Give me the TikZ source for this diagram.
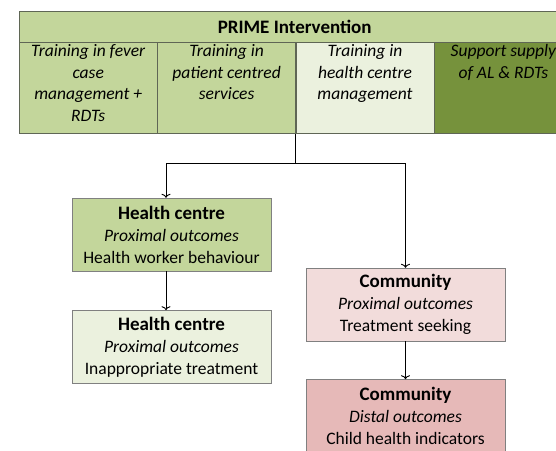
\documentclass[tikz,border=0pt]{standalone}
\usepackage{fontspec}
\setmainfont{Carlito}
\usepackage{xcolor}
\usepackage{tikz}
\usetikzlibrary{calc,positioning,arrows.meta}
\definecolor{olivelt}{RGB}{195,214,155}
\definecolor{olivepale}{RGB}{235,241,222}
\definecolor{olivedk}{RGB}{118,146,60}
\definecolor{rosepale}{RGB}{242,220,219}
\definecolor{rosemid}{RGB}{230,185,184}
\definecolor{gridline}{RGB}{95,102,85}
\tikzstyle{centered} = [align=center, text centered]
\tikzstyle{cell} = [draw=gridline, rectangle, inner sep=0pt, minimum width=138pt, minimum height=91pt]
\tikzset{
  % text styles
  celltext/.style={centered, anchor=north, inner sep=0pt, yshift=-2pt, font=\fontsize{17.5}{21.5}\selectfont\itshape},
  title/.style={font=\fontsize{19}{22}\selectfont\bfseries},
  % box styles
  outcome/.style={centered, rectangle, draw=gray, minimum width=199pt, minimum height=73pt, inner sep=1pt, font=\fontsize{17.5}{22}\selectfont},
  hcbox/.style={outcome,fill=olivelt},
  hcpale/.style={outcome,fill=olivepale},
  combox/.style={outcome,fill=rosepale},
  comdk/.style={outcome,fill=rosemid},
  link/.style={draw, line width=0.9pt},
}

\begin{document}
\begin{tikzpicture}[x=1pt,y=-1pt,>={To[length=4pt,width=9pt]}]
        \path[use as bounding box,clip] (0,0) rectangle (556,450);
        % intervention table
        \node(prime)[cell,anchor=north west,minimum width=551pt,minimum height=31pt,fill=olivelt,title] at(19,11){PRIME Intervention};
        \node(fever)[cell,anchor=north west,fill=olivelt] at(prime.south west){};
        \node(patient)[cell,fill=olivelt,right=0pt of fever]{};
        \node(mgmt)[cell,fill=olivepale,right=0pt of patient]{};
        \node(supply)[cell,fill=olivedk,right=0pt of mgmt]{};
        \node(feverT)[celltext] at(fever.north){Training in fever\\case\\management +\\RDTs};
        \node(patientT)[celltext] at(patient.north){Training in\\patient centred\\services};
        \node(mgmtT)[celltext] at(mgmt.north){Training in\\health centre\\management};
        \node(supplyT)[celltext] at(supply.north){Support supply\\of AL \& RDTs};
        % outcome boxes
        \node(hcbeh)[hcbox] at(171.5,234.5){{\fontsize{19}{22}\selectfont\bfseries Health centre}\\\textit{Proximal outcomes}\\Health worker behaviour};
        \node(hcinapp)[hcpale,below=39pt of hcbeh]{{\fontsize{19}{22}\selectfont\bfseries Health centre}\\\textit{Proximal outcomes}\\Inappropriate treatment};
        \node(comseek)[combox] at(405.5,304.5){{\fontsize{19}{22}\selectfont\bfseries Community}\\\textit{Proximal outcomes}\\Treatment seeking};
        \node(comchild)[comdk,below=38pt of comseek]{{\fontsize{19}{22}\selectfont\bfseries Community}\\\textit{Distal outcomes}\\Child health indicators};
        % connectors
        \draw[link] (mgmt.south west) -- ++(0,30) coordinate(split);
        \coordinate(hcin) at ([xshift=-5.5pt]hcbeh.north);
        \coordinate(hcout) at ([xshift=-5.5pt]hcbeh.south);
        \draw[link,->] (split) -| (hcin);
        \draw[link,->] (split) -| (comseek.north);
        \draw[link,->] (hcout) -- (hcout |- hcinapp.north);
        \draw[link,->] (comseek) -- (comchild);
    \end{tikzpicture}
\end{document}
